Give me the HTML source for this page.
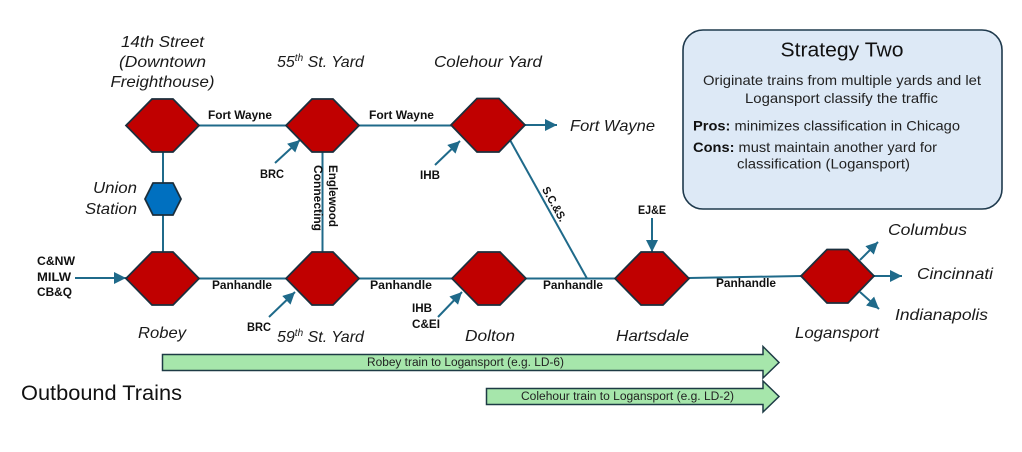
<!DOCTYPE html>
<html><head><meta charset="utf-8"><style>
html,body{margin:0;padding:0;background:#fff;}
svg{display:block;}
text{font-family:"Liberation Sans",Arial,sans-serif;}
.it{font-style:italic;font-size:16px;fill:#1a1a1a;}
.b{font-weight:bold;font-size:11.5px;fill:#111;}
.hx{fill:#c00000;stroke:#1b2f3d;stroke-width:1.8;stroke-linejoin:miter;}
.ln{stroke:#1f6a8a;stroke-width:2;fill:none;}
</style></head><body>
<svg width="1022" height="452" viewBox="0 0 1022 452" xmlns="http://www.w3.org/2000/svg">
<defs>
<marker id="ah" markerWidth="13" markerHeight="13" refX="12" refY="6" orient="auto" markerUnits="userSpaceOnUse">
<path d="M0,0 L12,6 L0,12 z" fill="#1f6a8a"/>
</marker>
</defs>

<!-- Strategy box -->
<rect x="683" y="30" width="319" height="179" rx="20" ry="20" fill="#dde9f6" stroke="#1f3a4d" stroke-width="1.6"/>
<text x="842" y="56.5" text-anchor="middle" font-size="20" fill="#111" textLength="123" lengthAdjust="spacingAndGlyphs">Strategy Two</text>
<text x="842" y="85" text-anchor="middle" font-size="14" fill="#222" textLength="278" lengthAdjust="spacingAndGlyphs">Originate trains from multiple yards and let</text>
<text x="841.5" y="103" text-anchor="middle" font-size="14" fill="#222" textLength="193" lengthAdjust="spacingAndGlyphs">Logansport classify the traffic</text>
<text x="693" y="130.5" font-size="14" fill="#222" textLength="267" lengthAdjust="spacingAndGlyphs"><tspan font-weight="bold" fill="#111">Pros:</tspan> minimizes classification in Chicago</text>
<text x="693" y="152" font-size="14" fill="#222" textLength="244" lengthAdjust="spacingAndGlyphs"><tspan font-weight="bold" fill="#111">Cons:</tspan> must maintain another yard for</text>
<text x="737" y="168.5" font-size="14" fill="#222" textLength="173" lengthAdjust="spacingAndGlyphs">classification (Logansport)</text>

<!-- Lines -->
<line class="ln" x1="163" y1="152" x2="163" y2="252"/>
<line class="ln" x1="199" y1="125.5" x2="286" y2="125.5"/>
<line class="ln" x1="359" y1="125.5" x2="451" y2="125.5"/>
<line class="ln" x1="322.5" y1="152" x2="322.5" y2="252"/>
<line class="ln" x1="199" y1="278.5" x2="286" y2="278.5"/>
<line class="ln" x1="359" y1="278.5" x2="452" y2="278.5"/>
<line class="ln" x1="526" y1="278.5" x2="615" y2="278.5"/>
<line class="ln" x1="689" y1="278" x2="801" y2="276"/>
<line class="ln" x1="510" y1="140" x2="587" y2="278.5"/>

<!-- Arrows -->
<line class="ln" x1="525" y1="125" x2="557" y2="125" marker-end="url(#ah)"/>
<line class="ln" x1="75" y1="278" x2="126" y2="278" marker-end="url(#ah)"/>
<line class="ln" x1="275" y1="163" x2="300" y2="140" marker-end="url(#ah)"/>
<line class="ln" x1="269" y1="317" x2="295" y2="292" marker-end="url(#ah)"/>
<line class="ln" x1="435" y1="165" x2="460" y2="141" marker-end="url(#ah)"/>
<line class="ln" x1="438" y1="317" x2="462" y2="292" marker-end="url(#ah)"/>
<line class="ln" x1="652" y1="218" x2="652" y2="252" marker-end="url(#ah)"/>
<line class="ln" x1="860" y1="260" x2="878" y2="242" marker-end="url(#ah)"/>
<line class="ln" x1="874" y1="276" x2="902" y2="276" marker-end="url(#ah)"/>
<line class="ln" x1="860" y1="292" x2="879" y2="309" marker-end="url(#ah)"/>

<!-- Hexagons -->
<polygon class="hx" points="126,125.5 152,99 173,99 199,125.5 173,152 152,152"/>
<polygon class="hx" points="286,125.5 312,99 333,99 359,125.5 333,152 312,152"/>
<polygon class="hx" points="451,125 477,98.5 499,98.5 525,125 499,152 477,152"/>
<polygon class="hx" points="126,278.5 152,252 173,252 199,278.5 173,305 152,305"/>
<polygon class="hx" points="286,278.5 312,252 333,252 359,278.5 333,305 312,305"/>
<polygon class="hx" points="452,278.5 478,252 500,252 526,278.5 500,305 478,305"/>
<polygon class="hx" points="615,278.5 641,252 663,252 689,278.5 663,305 641,305"/>
<polygon class="hx" points="801,276 827,249.5 848,249.5 874,276 848,303 827,303"/>
<polygon points="145,199 153,183 173,183 181,199 173,215 153,215" fill="#0070c0" stroke="#1b2f3d" stroke-width="1.8"/>

<!-- Node labels -->
<text class="it" x="162.5" y="47" text-anchor="middle" textLength="83" lengthAdjust="spacingAndGlyphs">14th Street</text>
<text class="it" x="162.5" y="67" text-anchor="middle" textLength="87" lengthAdjust="spacingAndGlyphs">(Downtown</text>
<text class="it" x="162.5" y="87" text-anchor="middle" textLength="104" lengthAdjust="spacingAndGlyphs">Freighthouse)</text>
<text class="it" x="277" y="67">55<tspan font-size="10" dy="-6">th</tspan><tspan dy="6"> St. Yard</tspan></text>
<text class="it" x="488" y="67" text-anchor="middle" textLength="108" lengthAdjust="spacingAndGlyphs">Colehour Yard</text>
<text class="it" x="570" y="131" textLength="85" lengthAdjust="spacingAndGlyphs">Fort Wayne</text>
<text class="it" x="137" y="193" text-anchor="end" textLength="44" lengthAdjust="spacingAndGlyphs">Union</text>
<text class="it" x="137" y="214" text-anchor="end" textLength="52" lengthAdjust="spacingAndGlyphs">Station</text>
<text class="it" x="162" y="338" text-anchor="middle" textLength="48" lengthAdjust="spacingAndGlyphs">Robey</text>
<text class="it" x="277" y="342">59<tspan font-size="10" dy="-6">th</tspan><tspan dy="6"> St. Yard</tspan></text>
<text class="it" x="490" y="341" text-anchor="middle" textLength="50" lengthAdjust="spacingAndGlyphs">Dolton</text>
<text class="it" x="652.5" y="341" text-anchor="middle" textLength="73" lengthAdjust="spacingAndGlyphs">Hartsdale</text>
<text class="it" x="837" y="338" text-anchor="middle" textLength="84" lengthAdjust="spacingAndGlyphs">Logansport</text>
<text class="it" x="888" y="235" textLength="79" lengthAdjust="spacingAndGlyphs">Columbus</text>
<text class="it" x="917" y="279" textLength="76" lengthAdjust="spacingAndGlyphs">Cincinnati</text>
<text class="it" x="895" y="320" textLength="93" lengthAdjust="spacingAndGlyphs">Indianapolis</text>

<!-- Connector labels -->
<text class="b" x="208" y="119" textLength="64" lengthAdjust="spacingAndGlyphs">Fort Wayne</text>
<text class="b" x="369" y="119" textLength="65" lengthAdjust="spacingAndGlyphs">Fort Wayne</text>
<text class="b" x="212" y="289" textLength="60" lengthAdjust="spacingAndGlyphs">Panhandle</text>
<text class="b" x="370" y="289" textLength="62" lengthAdjust="spacingAndGlyphs">Panhandle</text>
<text class="b" x="543" y="289" textLength="60" lengthAdjust="spacingAndGlyphs">Panhandle</text>
<text class="b" x="716" y="287" textLength="60" lengthAdjust="spacingAndGlyphs">Panhandle</text>
<text class="b" x="260" y="178" textLength="24" lengthAdjust="spacingAndGlyphs">BRC</text>
<text class="b" x="247" y="331" textLength="24" lengthAdjust="spacingAndGlyphs">BRC</text>
<text class="b" x="420" y="179" textLength="20" lengthAdjust="spacingAndGlyphs">IHB</text>
<text class="b" x="412" y="312" textLength="20" lengthAdjust="spacingAndGlyphs">IHB</text>
<text class="b" x="412" y="328" textLength="28" lengthAdjust="spacingAndGlyphs">C&amp;EI</text>
<text class="b" x="638" y="214" textLength="28" lengthAdjust="spacingAndGlyphs">EJ&amp;E</text>
<text class="b" x="37" y="265" textLength="38" lengthAdjust="spacingAndGlyphs">C&amp;NW</text>
<text class="b" x="37" y="281" textLength="34" lengthAdjust="spacingAndGlyphs">MILW</text>
<text class="b" x="37" y="296" textLength="35" lengthAdjust="spacingAndGlyphs">CB&amp;Q</text>
<text class="b" transform="translate(329,196) rotate(90)" text-anchor="middle" textLength="62" lengthAdjust="spacingAndGlyphs">Englewood</text>
<text class="b" transform="translate(314,198) rotate(90)" text-anchor="middle" textLength="66" lengthAdjust="spacingAndGlyphs">Connecting</text>
<text class="b" transform="translate(551,206) rotate(61)" text-anchor="middle" textLength="38" lengthAdjust="spacingAndGlyphs">S.C.&amp;S.</text>

<!-- Outbound trains -->
<text x="21" y="400" font-size="21" fill="#111" textLength="161" lengthAdjust="spacingAndGlyphs">Outbound Trains</text>
<path d="M162.5,354.5 L763,354.5 L763,346.5 L779,362.5 L763,378 L763,370.5 L162.5,370.5 z" fill="#a6e6ab" stroke="#1d3b45" stroke-width="1.5"/>
<text x="465.5" y="366" text-anchor="middle" font-size="11.5" fill="#222" textLength="197" lengthAdjust="spacingAndGlyphs">Robey train to Logansport (e.g. LD-6)</text>
<path d="M486.5,388.5 L763,388.5 L763,381 L779,396.5 L763,412 L763,404.5 L486.5,404.5 z" fill="#a6e6ab" stroke="#1d3b45" stroke-width="1.5"/>
<text x="627.5" y="400" text-anchor="middle" font-size="11.5" fill="#222" textLength="213" lengthAdjust="spacingAndGlyphs">Colehour train to Logansport (e.g. LD-2)</text>
</svg>
</body></html>
